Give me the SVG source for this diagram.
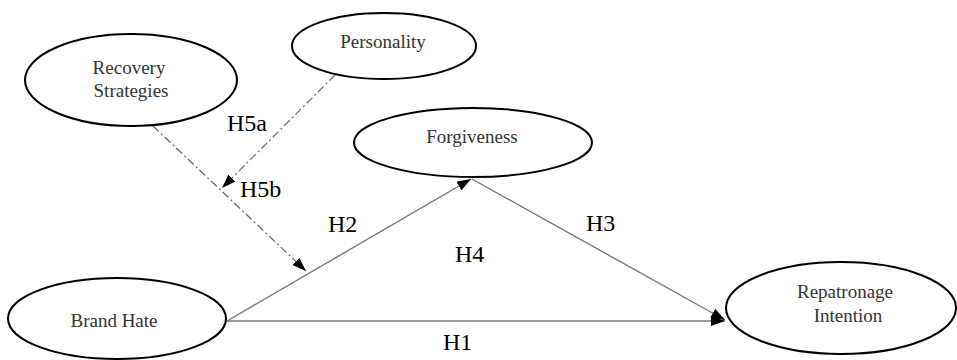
<svg xmlns="http://www.w3.org/2000/svg" width="957" height="360" viewBox="0 0 957 360">
<style>
.node{fill:#fff;stroke:#000;stroke-width:2}
.nt{font-family:"Liberation Serif",serif;font-size:19px;fill:#333;text-anchor:middle}
.lb{font-family:"Liberation Serif",serif;font-size:24px;fill:#000}
.solid{stroke:#777;stroke-width:1.4;fill:none}
.dash{stroke:#666;stroke-width:1.2;fill:none;stroke-dasharray:8 3 2 3}
</style>
<defs>
<marker id="ah" viewBox="0 0 14 10" refX="14" refY="5" markerWidth="14" markerHeight="10" markerUnits="userSpaceOnUse" orient="auto">
<path d="M0,0 L14,5 L0,10 Z" fill="#000"/>
</marker>
</defs>
<rect width="957" height="360" fill="#fff"/>
<g id="connectors">
<line class="solid" x1="227" y1="321" x2="725" y2="321" marker-end="url(#ah)"/>
<line class="solid" x1="227" y1="321" x2="471" y2="179" marker-end="url(#ah)"/>
<line class="solid" x1="472" y1="179" x2="725" y2="320" marker-end="url(#ah)"/>
<line class="dash" x1="335" y1="75" x2="222" y2="188" marker-end="url(#ah)"/>
<line class="dash" x1="153" y1="126" x2="306" y2="271" marker-end="url(#ah)"/>
</g>
<g id="labels">
<text class="lb" x="227" y="131">H5a</text>
<text class="lb" x="240" y="197">H5b</text>
<text class="lb" x="328" y="232">H2</text>
<text class="lb" x="455" y="262">H4</text>
<text class="lb" x="586" y="231">H3</text>
<text class="lb" x="443" y="350">H1</text>
</g>
<g id="recovery">
<ellipse class="node" cx="131" cy="80" rx="106" ry="46"/>
<text class="nt" x="129" y="74">Recovery</text>
<text class="nt" x="131" y="97">Strategies</text>
</g>
<g id="personality">
<ellipse class="node" cx="384" cy="46" rx="92" ry="33"/>
<text class="nt" x="383" y="48">Personality</text>
</g>
<g id="forgiveness">
<ellipse class="node" cx="473" cy="142.5" rx="119" ry="34.5"/>
<text class="nt" x="472" y="143">Forgiveness</text>
</g>
<g id="brandhate">
<ellipse class="node" cx="117" cy="318.5" rx="109" ry="40.5"/>
<text class="nt" x="114" y="327">Brand Hate</text>
</g>
<g id="repatronage">
<ellipse class="node" cx="841" cy="308" rx="115" ry="46"/>
<text class="nt" x="845" y="298">Repatronage</text>
<text class="nt" x="848" y="322">Intention</text>
</g>
</svg>
